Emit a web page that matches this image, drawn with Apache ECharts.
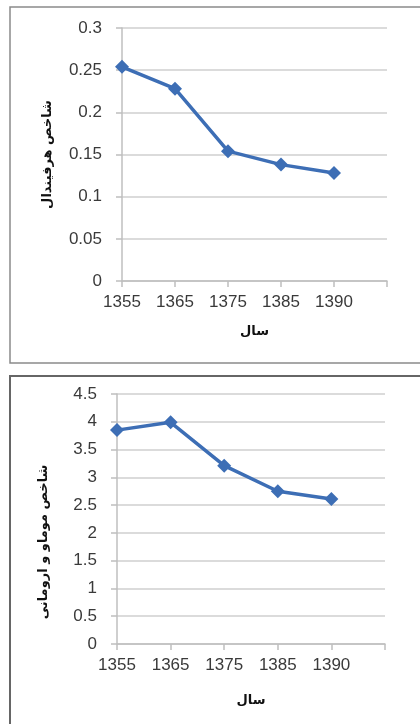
<!DOCTYPE html>
<html>
<head>
<meta charset="utf-8">
<script src="https://cdn.jsdelivr.net/npm/echarts@6/dist/echarts.min.js"></script>
<style>
html,body{margin:0;padding:0;background:#fff;}
#c{width:420px;height:724px;}
</style>
</head>
<body>
<div id="c"></div>
<script>
var years = ['1355', '1365', '1375', '1385', '1390', ''];
var herfindahl = [0.254, 0.228, 0.154, 0.138, 0.128];
var secondIndex = [3.85, 3.99, 3.21, 2.75, 2.61];
var yNameTop = 'شاخص هرفیندال';
var yNameBottom = 'شاخص موماو و ارومانی';
var xName = 'سال';

var lineColor = '#3d6eb5';
var tickFont = { color: '#3a3a3a', fontSize: 17, fontFamily: 'Liberation Sans, Arial, sans-serif' };
var nameFont = { color: '#111', fontSize: 13, fontWeight: 'bold', fontFamily: 'DejaVu Sans, sans-serif' };

function xAxis(gridIndex, gap) {
  return {
    type: 'category', gridIndex: gridIndex, data: years, boundaryGap: false,
    axisLine: { lineStyle: { color: '#bfbfbf', width: 1.5 } },
    axisTick: { show: true, interval: 0, length: 6, lineStyle: { color: '#bfbfbf', width: 1.5 } },
    axisLabel: Object.assign({ margin: 13, interval: 0 }, tickFont),
    name: xName, nameLocation: 'middle', nameGap: gap, nameTextStyle: nameFont,
    splitLine: { show: false }
  };
}
function yAxis(gridIndex, max, interval, name, gap, pad) {
  return {
    type: 'value', gridIndex: gridIndex, min: 0, max: max, interval: interval,
    axisLine: { show: true, lineStyle: { color: '#bfbfbf', width: 1.5 } },
    axisTick: { show: true, length: 6, lineStyle: { color: '#bfbfbf', width: 1.5 } },
    axisLabel: Object.assign({ margin: 20 }, tickFont),
    splitLine: { lineStyle: { color: '#cfcfcf', width: 1.5 } },
    name: name, nameLocation: 'middle', nameGap: gap, nameRotate: 90,
    nameTextStyle: Object.assign({ padding: pad }, nameFont)
  };
}

var chart = echarts.init(document.getElementById('c'), null, { renderer: 'canvas' });
chart.setOption({
  animation: false,
  backgroundColor: '#fff',
  graphic: [
    { type: 'rect', shape: { x: 10, y: 7, width: 430, height: 356 }, style: { fill: 'none', stroke: '#8a8a8a', lineWidth: 1.5 }, z: -1 },
    { type: 'rect', shape: { x: 10, y: 376, width: 430, height: 400 }, style: { fill: 'none', stroke: '#666', lineWidth: 2 }, z: -1 }
  ],
  grid: [
    { left: 122, right: 33, top: 28, height: 253 },
    { left: 117, right: 35, top: 394, height: 250 }
  ],
  xAxis: [xAxis(0, 44), xAxis(1, 50)],
  yAxis: [
    yAxis(0, 0.3, 0.05, yNameTop, 68, 0),
    yAxis(1, 4.5, 0.5, yNameBottom, 67, [0, 46, 0, 0])
  ],
  series: [
    { type: 'line', xAxisIndex: 0, yAxisIndex: 0, data: herfindahl, symbol: 'diamond', symbolSize: 14,
      lineStyle: { color: lineColor, width: 3.5 }, itemStyle: { color: lineColor } },
    { type: 'line', xAxisIndex: 1, yAxisIndex: 1, data: secondIndex, symbol: 'diamond', symbolSize: 14,
      lineStyle: { color: lineColor, width: 3.5 }, itemStyle: { color: lineColor } }
  ]
});
</script>
</body>
</html>
